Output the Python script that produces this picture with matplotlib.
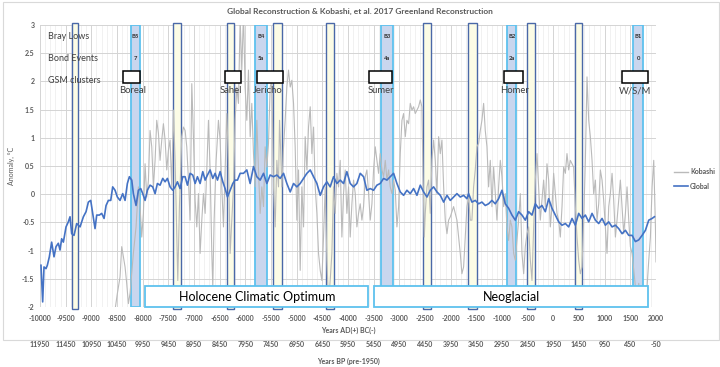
import matplotlib
matplotlib.use("Agg")
import matplotlib.pyplot as plt
from matplotlib.patches import Rectangle
from matplotlib.lines import Line2D

plt.rcParams['font.family'] = ['Lato', 'DejaVu Sans']
plt.rcParams['axes.unicode_minus'] = False

# ---------------- data ----------------
global_years = [-9981, -9948, -9922, -9883, -9857, -9818, -9773, -9727, -9688, -9643, -9610, -9578, -9545,
                -9493, -9448, -9415, -9383, -9337, -9285, -9220, -9155, -9103, -9058, -9012, -8973, -8928,
                -8895, -8843, -8798, -8752, -8713, -8668, -8622, -8584, -8538, -8493, -8441, -8389, -8343,
                -8298, -8259, -8213, -8181, -8129, -8083, -8038, -7999, -7953, -7908, -7856, -7804, -7758,
                -7713, -7661, -7609, -7563, -7518, -7466, -7414, -7368, -7323, -7271, -7219, -7173, -7128,
                -7076, -7024, -6978, -6933, -6881, -6829, -6783, -6738, -6686, -6634, -6589, -6543, -6491,
                -6439, -6394, -6348, -6296, -6244, -6199, -6153, -6101, -6036, -5971, -5906, -5841, -5776,
                -5711, -5646, -5581, -5516, -5451, -5386, -5321, -5256, -5191, -5126, -5061, -4996, -4931,
                -4866, -4801, -4736, -4671, -4606, -4541, -4477, -4412, -4347, -4282, -4217, -4152, -4087,
                -4022, -3957, -3892, -3827, -3762, -3697, -3632, -3567, -3502, -3437, -3372, -3307, -3242,
                -3177, -3112, -3047, -2982, -2917, -2852, -2787, -2722, -2657, -2592, -2527, -2462, -2397,
                -2332, -2267, -2202, -2137, -2072, -2007, -1943, -1878, -1813, -1748, -1683, -1651, -1586,
                -1521, -1456, -1391, -1326, -1261, -1196, -1131, -1066, -1001, -936, -871, -806, -741,
                -676, -611, -546, -481, -416, -351, -286, -221, -156, -91, -26, 39, 104, 169, 234, 299,
                364, 429, 494, 559, 624, 689, 754, 819, 884, 949, 1014, 1079, 1144, 1209, 1274, 1339,
                1404, 1469, 1534, 1599, 1664, 1729, 1794, 1859, 1924, 1969]
global_vals = [-1.26, -1.91, -1.29, -1.32, -1.26, -1.11, -0.85, -1.11, -0.93, -0.87, -0.99, -0.79, -0.85,
               -0.58, -0.49, -0.40, -0.70, -0.73, -0.52, -0.58, -0.40, -0.31, -0.14, -0.11, -0.34, -0.61,
               -0.37, -0.37, -0.34, -0.43, -0.20, -0.11, -0.11, 0.13, 0.07, -0.05, -0.11, 0.01, -0.11,
               0.19, 0.31, 0.25, 0.01, -0.20, 0.07, 0.10, 0.01, -0.11, 0.07, 0.16, 0.13, 0.01,
               0.19, 0.16, 0.28, 0.22, 0.28, 0.13, 0.07, 0.13, 0.22, 0.10, 0.31, 0.31, 0.16,
               0.37, 0.34, 0.19, 0.31, 0.19, 0.40, 0.25, 0.34, 0.43, 0.28, 0.37, 0.25, 0.40,
               0.22, 0.10, -0.05, 0.07, 0.19, 0.25, 0.25, 0.37, 0.37, 0.43, 0.19, 0.49, 0.31,
               0.25, 0.37, 0.19, 0.34, 0.31, 0.34, 0.28, 0.37, 0.19, 0.04, 0.19, 0.13, 0.19,
               0.28, 0.37, 0.43, 0.31, 0.19, -0.02, 0.13, 0.22, 0.13, 0.31, 0.19, 0.25, 0.19,
               0.40, 0.19, 0.13, 0.19, 0.37, 0.31, 0.07, 0.10, 0.07, 0.16, 0.19, 0.28, 0.25,
               0.31, 0.37, 0.19, 0.04, -0.02, 0.07, 0.01, 0.10, -0.02, 0.16, 0.04, -0.05, 0.07,
               0.13, 0.04, -0.02, -0.14, -0.02, -0.11, -0.05, 0.01, -0.05, -0.02, -0.08, 0.01, -0.14,
               -0.11, -0.17, -0.14, -0.20, -0.17, -0.11, -0.17, -0.08, 0.07, -0.17, -0.25, -0.37, -0.46,
               -0.31, -0.37, -0.46, -0.31, -0.37, -0.17, -0.25, -0.20, -0.31, -0.08, -0.25, -0.37, -0.49,
               -0.55, -0.52, -0.58, -0.43, -0.55, -0.34, -0.43, -0.37, -0.49, -0.34, -0.46, -0.52, -0.43,
               -0.55, -0.49, -0.58, -0.55, -0.61, -0.70, -0.64, -0.73, -0.73, -0.84, -0.81, -0.73, -0.64,
               -0.46, -0.43, -0.40]

kobashi_years = [-8538, -8493, -8441, -8408, -8376, -8343, -8311, -8278, -8246, -8181, -8129, -8083, -8051,
                 -8018, -7986, -7953, -7921, -7888, -7856, -7823, -7791, -7758, -7726, -7693, -7661, -7628,
                 -7596, -7563, -7531, -7498, -7466, -7433, -7401, -7368, -7336, -7316, -7284, -7238, -7206,
                 -7173, -7141, -7108, -7076, -7043, -7011, -6978, -6946, -6913, -6881, -6848, -6816, -6783,
                 -6751, -6718, -6686, -6653, -6634, -6608, -6569, -6524, -6491, -6459, -6426, -6394, -6361,
                 -6329, -6296, -6264, -6231, -6199, -6166, -6134, -6101, -6069, -6036, -6004, -5971, -5939,
                 -5906, -5874, -5841, -5809, -5776, -5744, -5711, -5679, -5646, -5614, -5581, -5549, -5516,
                 -5484, -5451, -5419, -5386, -5354, -5334, -5321, -5289, -5256, -5224, -5191, -5159, -5126,
                 -5094, -5061, -5029, -4996, -4964, -4931, -4899, -4866, -4834, -4801, -4769, -4736, -4704,
                 -4671, -4639, -4606, -4574, -4541, -4509, -4477, -4444, -4412, -4379, -4347, -4314, -4282,
                 -4249, -4217, -4184, -4152, -4119, -4087, -4054, -4022, -3989, -3957, -3924, -3892, -3859,
                 -3827, -3794, -3762, -3729, -3697, -3664, -3632, -3599, -3567, -3534, -3502, -3469, -3437,
                 -3404, -3372, -3339, -3307, -3274, -3242, -3209, -3177, -3144, -3112, -3079, -3047, -3014,
                 -2982, -2949, -2917, -2884, -2852, -2819, -2787, -2754, -2722, -2690, -2657, -2625, -2592,
                 -2560, -2540, -2514, -2495, -2462, -2430, -2397, -2365, -2332, -2300, -2267, -2235, -2202,
                 -2170, -2137, -2105, -2072, -2040, -2007, -1943, -1878, -1813, -1781, -1748, -1716, -1683,
                 -1651, -1618, -1586, -1553, -1521, -1488, -1456, -1423, -1391, -1358, -1326, -1293, -1261,
                 -1228, -1196, -1163, -1131, -1098, -1066, -1033, -1001, -968, -936, -903, -871, -838,
                 -806, -773, -741, -708, -676, -643, -611, -578, -546, -513, -481, -448, -416, -383, -351,
                 -319, -286, -254, -221, -189, -156, -124, -91, -59, -26, 6, 39, 71, 104, 136, 169, 201,
                 234, 266, 299, 331, 364, 396, 429, 461, 494, 526, 559, 591, 624, 656, 689, 721, 754, 786,
                 819, 851, 884, 916, 949, 981, 1014, 1046, 1079, 1111, 1144, 1176, 1209, 1241, 1274, 1306,
                 1339, 1371, 1404, 1436, 1469, 1501, 1534, 1566, 1599, 1631, 1664, 1696, 1729, 1761, 1794,
                 1826, 1859, 1891, 1924, 1956, 1989, 2000]
kobashi_vals = [-2.05, -1.76, -1.47, -0.93, -1.11, -1.29, -1.58, -1.94, -1.76, -1.05, -0.58, 0.13, -0.22,
                -0.76, -0.34, 0.54, -0.05, 0.25, 1.13, 0.84, 0.13, 0.60, 1.31, 1.08, 0.60, 0.96,
                1.25, 0.96, 0.43, 0.78, 0.96, 0.13, 1.49, 0.60, -0.70, -1.53, -0.22, 1.02, 1.19,
                1.13, 0.84, 0.25, -0.46, 1.96, 1.02, -0.11, -0.58, 0.01, -1.05, -0.46, 0.01, -0.34,
                0.43, 1.31, 0.43, -1.05, -1.64, -0.46, 0.60, 1.31, 0.96, 0.13, -0.58, 0.43, 1.43,
                0.60, -1.05, -0.46, 0.13, 1.31, 1.90, 1.61, 3.10, 2.20, 3.20, 1.90, 1.31, 2.20,
                1.02, 1.61, 0.72, 0.13, 1.31, 0.43, -0.34, 0.13, -0.22, 0.84, 0.48, 0.90, 1.90,
                2.02, 0.13, -0.58, 0.60, 0.13, 1.31, 1.02, 0.13, 0.84, 1.31, 1.90, 2.20, 1.90,
                2.02, 1.61, 0.84, -0.46, 0.43, -1.35, 0.13, -0.58, 1.02, 0.43, 1.19, 1.55, 0.72,
                1.19, 0.13, -0.34, -1.05, -1.35, -1.53, -0.76, 0.13, -1.17, -1.94, -1.53, -1.05, 0.13,
                -0.34, 0.37, 0.13, 0.60, -0.76, 0.01, 0.43, -0.34, 0.13, -0.76, -0.17, 0.25, 0.01,
                -0.58, -0.34, -0.17, -0.46, -0.22, 0.31, 0.43, 0.01, -0.46, -0.17, 0.43, 0.84, 0.60,
                0.37, 0.72, 0.43, 0.31, 0.60, 0.25, 0.43, 0.13, 0.01, 0.25, 0.07, -0.58, -0.22,
                0.72, 1.31, 1.43, 1.02, 1.31, 1.25, 1.61, 1.49, 1.55, 1.43, 1.49, 1.55, 1.67,
                1.55, 0.37, -0.76, -0.34, 0.13, 0.25, -0.34, 0.60, 0.96, 0.60, 0.01, 1.02, 0.72,
                0.96, 0.13, -0.46, -0.70, -0.46, -0.40, -0.22, -0.46, -1.05, -1.41, -1.29, -0.76, -0.22,
                -0.05, -0.46, -0.46, 0.13, 0.43, 0.84, 0.90, 1.13, 1.31, 1.61, 1.13, 0.84, 0.13,
                0.60, -0.22, 0.48, 0.01, -0.46, 0.13, 0.60, 0.31, -0.22, 0.01, -0.58, -0.82, -0.46,
                -0.58, -1.05, -1.17, -0.82, -0.46, 0.01, -1.05, -1.41, -0.93, -0.70, -0.58, -1.17, -1.53, -0.58, 0.25,
                0.72, 0.13, -0.46, -0.11, 0.25, -0.22, 0.54, 0.25, -0.58, -0.22, 0.37, 0.01, -0.34, -0.46, -0.76, -0.22, 0.48,
                0.37, 0.72, 0.43, 0.60, 0.54, 0.48, -0.22, -0.76, -1.17, -1.41, -1.29, -0.46, 0.60, 2.08, 1.31, 1.02, 0.60, 0.01,
                0.25, -0.46, -0.17, 0.43, 0.25, -0.11, -0.58, -1.05, -0.22, 0.01, 0.37, -0.11, -0.76, -0.46, -0.11, 0.25,
                -0.22, -0.70, -0.34, 0.13, -0.46, -0.93, -1.05, -1.35, -1.64, -2.10, -1.58, -2.20, -1.64, -2.10, -2.20,
                -1.64, -1.17, -0.76, 0.13, 0.60, -0.58, -1.20]

event_start = [-9375, -8225, -7405, -6355, -5810, -5460, -4425, -3355, -2535, -1655, -895, -505, 430, 1560]
event_end = [-9260, -8050, -7250, -6220, -5575, -5285, -4270, -3120, -2380, -1480, -720, -350, 565, 1755]
event_is_bray = [False, True, False, False, True, False, False, True, False, False, True, False, False, True]
bray_labels = ["", "B5", "", "", "B4", "", "", "B3", "", "", "B2", "", "", "B1"]
bond_labels = ["", "7", "", "", "5a", "", "", "4a", "", "", "2a", "", "", "0"]

gsm_names = ["Boreal", "Sahel", "Jericho", "Sumer", "Homer", "W/S/M"]
gsm_start = [-8380, -6395, -5770, -3590, -955, 1345]
gsm_end = [-8050, -6080, -5265, -3140, -585, 1850]
gsm_label_x = [-8205, -6280, -5555, -3355, -760, 1600]

period_names = ["Holocene Climatic Optimum", "Neoglacial"]
period_start = [-7950, -3490]
period_end = [-3605, 1850]

year_ticks = list(range(-10000, 2001, 500))
bp_ticks = [1950 - y for y in year_ticks]
y_ticks = [-2, -1.5, -1, -0.5, 0, 0.5, 1, 1.5, 2, 2.5, 3]

# ---------------- figure ----------------
W, H = 720, 367
fig = plt.figure(figsize=(W / 100, H / 100), dpi=100)
ax = fig.add_axes([40 / W, 1 - 307 / H, 616 / W, 282 / H])
ax.set_xlim(-10000, 2000)
ax.set_ylim(-2, 3)

# chart frame
fig.patches.append(Rectangle((3 / W, 1 - 340 / H), 716 / W, 338 / H, transform=fig.transFigure,
                             fill=False, edgecolor='#d9d9d9', lw=0.8, zorder=0))

# grid
ax.set_xticks(year_ticks)
ax.set_xticks(list(range(-10000, 2001, 100)), minor=True)
ax.set_yticks(y_ticks)
ax.grid(which='major', color='#d4d4d4', lw=0.7, zorder=0)
ax.grid(which='minor', axis='x', color='#ebebeb', lw=0.5, zorder=0)
ax.set_axisbelow(True)
for s in ax.spines.values():
    s.set_visible(False)
ax.tick_params(which='both', length=0)
ax.tick_params(axis='x', pad=5.5, labelsize=5, labelcolor='#595959')
ax.tick_params(axis='y', pad=4, labelsize=5, labelcolor='#595959')
ax.set_xticklabels([str(v) for v in year_ticks], fontweight='bold')
ax.set_yticklabels([f"{v:g}" for v in y_ticks], fontweight='bold')
ax.set_xlabel("Years AD(+) BC(-)", fontsize=5, fontweight='bold', color='#595959', labelpad=4)
ax.set_ylabel("Anomaly, °C", fontsize=5, color='#595959', labelpad=5)

# event bands
for s, e, b in zip(event_start, event_end, event_is_bray):
    if b:
        r = Rectangle((s, -2.0), e - s, 5.0, facecolor='#c9d6ee', edgecolor='#5ec1ee', lw=1.3, zorder=1)
    else:
        r = Rectangle((s, -2.03), e - s, 5.06, facecolor='#fcfce6', edgecolor='#4a68a8', lw=1.0,
                      zorder=1, clip_on=False)
    ax.add_patch(r)

# lines
ax.plot(kobashi_years, kobashi_vals, color='#bababa', lw=0.8, zorder=2)
ax.plot(global_years, global_vals, color='#4472C4', lw=1.2, zorder=3)

# header texts
ax.text(-9850, 2.79, "Bray Lows", fontsize=6.5, color='#404040', va='center', zorder=5)
ax.text(-9850, 2.41, "Bond Events", fontsize=6.5, color='#404040', va='center', zorder=5)
ax.text(-9850, 2.02, "GSM clusters", fontsize=6.5, color='#404040', va='center', zorder=5)
for s, e, bl, bd in zip(event_start, event_end, bray_labels, bond_labels):
    if bl:
        c = (s + e) / 2
        ax.text(c, 2.79, bl, fontsize=4.2, fontweight='bold', color='#303030', ha='center', va='center', zorder=5)
        ax.text(c, 2.41, bd, fontsize=4.2, fontweight='bold', color='#303030', ha='center', va='center', zorder=5)

for n, s, e, lx in zip(gsm_names, gsm_start, gsm_end, gsm_label_x):
    ax.add_patch(Rectangle((s, 1.97), e - s, 0.21, facecolor='white', edgecolor='black', lw=1.1, zorder=4))
    ax.text(lx, 1.83, n, fontsize=6.8, color='#404040', ha='center', va='center', zorder=5)

for n, s, e in zip(period_names, period_start, period_end):
    ax.add_patch(Rectangle((s, -2.0), e - s, 0.37, facecolor='white', edgecolor='#5ec1ee', lw=1.3,
                           zorder=6, clip_on=False))
    ax.text((s + e) / 2, -1.815, n, fontsize=9, color='black', ha='center', va='center', zorder=7)

# BP axis
sec = ax.secondary_xaxis(-0.11, functions=(lambda x: 1950 - x, lambda x: 1950 - x))
sec.set_xticks(bp_ticks)
sec.set_xticklabels([str(v) for v in bp_ticks], fontweight='bold')
sec.tick_params(length=0, pad=2, labelsize=5, labelcolor='#595959')
sec.spines['bottom'].set_visible(False)
sec.set_xlabel("Years BP (pre-1950)", fontsize=5, fontweight='bold', color='#595959', labelpad=7)

# title
fig.text(360 / W, 1 - 11 / H, "Global Reconstruction & Kobashi, et al. 2017 Greenland Reconstruction",
         fontsize=6, fontweight='bold', color='#595959', ha='center', va='center')

# legend
handles = [Line2D([], [], color='#bababa', lw=1.0), Line2D([], [], color='#4472C4', lw=1.2)]
fig.legend(handles, ["Kobashi", "Global"], loc='center left', bbox_to_anchor=(668 / W, 1 - 179 / H),
           frameon=False, prop={'size': 5, 'weight': 'bold'}, handlelength=2.0, handletextpad=0.3,
           labelspacing=1.1, labelcolor='#595959')

fig.savefig("out.png", dpi=100)
